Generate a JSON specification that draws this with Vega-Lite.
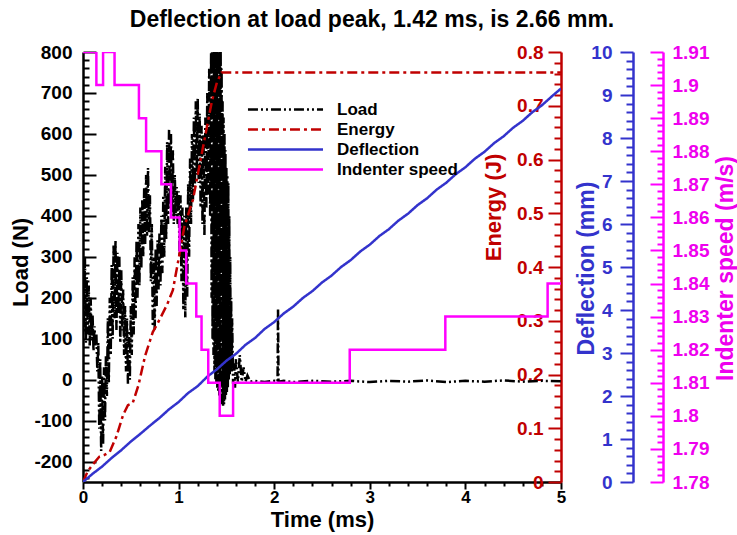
{
"$schema": "https://vega.github.io/schema/vega-lite/v6.json",
"width": 478, "height": 430,
"autosize": {"type": "none"},
"padding": {"left": 83, "top": 52, "right": 176, "bottom": 53},
"background": "white",
"title": {"text": "Deflection at load peak, 1.42 ms, is 2.66 mm.", "fontSize": 23, "font": "Liberation Sans", "fontWeight": "bold", "anchor": "middle", "dx": 50, "offset": 11, "color": "black"},
"data": {"values": [
{"s":"Load","t":0,"v":280},{"s":"Load","t":0.01,"v":120},{"s":"Load","t":0.02,"v":300},{"s":"Load","t":0.03,"v":90},{"s":"Load","t":0.04,"v":250},{"s":"Load","t":0.05,"v":110},{"s":"Load","t":0.06,"v":230},{"s":"Load","t":0.07,"v":80},{"s":"Load","t":0.08,"v":200},{"s":"Load","t":0.09,"v":100},
{"s":"Load","t":0.1,"v":160},{"s":"Load","t":0.11,"v":70},{"s":"Load","t":0.12,"v":130},{"s":"Load","t":0.13,"v":80},{"s":"Load","t":0.14,"v":110},{"s":"Load","t":0.15,"v":20},{"s":"Load","t":0.16,"v":90},{"s":"Load","t":0.17,"v":-120},{"s":"Load","t":0.18,"v":50},{"s":"Load","t":0.19,"v":-174},
{"s":"Load","t":0.2,"v":10},{"s":"Load","t":0.21,"v":-160},{"s":"Load","t":0.22,"v":30},{"s":"Load","t":0.23,"v":-100},{"s":"Load","t":0.24,"v":60},{"s":"Load","t":0.25,"v":-40},{"s":"Load","t":0.26,"v":150},{"s":"Load","t":0.27,"v":-10},{"s":"Load","t":0.28,"v":200},{"s":"Load","t":0.29,"v":60},
{"s":"Load","t":0.3,"v":280},{"s":"Load","t":0.31,"v":100},{"s":"Load","t":0.32,"v":330},{"s":"Load","t":0.33,"v":150},{"s":"Load","t":0.34,"v":340},{"s":"Load","t":0.35,"v":120},{"s":"Load","t":0.36,"v":310},{"s":"Load","t":0.37,"v":160},{"s":"Load","t":0.38,"v":300},{"s":"Load","t":0.39,"v":90},
{"s":"Load","t":0.4,"v":270},{"s":"Load","t":0.41,"v":120},{"s":"Load","t":0.42,"v":220},{"s":"Load","t":0.43,"v":60},{"s":"Load","t":0.44,"v":180},{"s":"Load","t":0.45,"v":20},{"s":"Load","t":0.46,"v":150},{"s":"Load","t":0.47,"v":-10},{"s":"Load","t":0.48,"v":120},{"s":"Load","t":0.49,"v":0},
{"s":"Load","t":0.5,"v":180},{"s":"Load","t":0.51,"v":60},{"s":"Load","t":0.52,"v":250},{"s":"Load","t":0.53,"v":110},{"s":"Load","t":0.54,"v":300},{"s":"Load","t":0.55,"v":150},{"s":"Load","t":0.56,"v":340},{"s":"Load","t":0.57,"v":200},{"s":"Load","t":0.58,"v":380},{"s":"Load","t":0.59,"v":230},
{"s":"Load","t":0.6,"v":420},{"s":"Load","t":0.61,"v":270},{"s":"Load","t":0.62,"v":440},{"s":"Load","t":0.63,"v":300},{"s":"Load","t":0.64,"v":470},{"s":"Load","t":0.65,"v":330},{"s":"Load","t":0.66,"v":500},{"s":"Load","t":0.67,"v":350},{"s":"Load","t":0.68,"v":517},{"s":"Load","t":0.69,"v":360},
{"s":"Load","t":0.7,"v":450},{"s":"Load","t":0.71,"v":240},{"s":"Load","t":0.72,"v":380},{"s":"Load","t":0.73,"v":130},{"s":"Load","t":0.74,"v":300},{"s":"Load","t":0.75,"v":120},{"s":"Load","t":0.76,"v":320},{"s":"Load","t":0.77,"v":180},{"s":"Load","t":0.78,"v":340},{"s":"Load","t":0.79,"v":220},
{"s":"Load","t":0.8,"v":360},{"s":"Load","t":0.81,"v":230},{"s":"Load","t":0.82,"v":400},{"s":"Load","t":0.83,"v":260},{"s":"Load","t":0.84,"v":450},{"s":"Load","t":0.85,"v":300},{"s":"Load","t":0.86,"v":520},{"s":"Load","t":0.87,"v":340},{"s":"Load","t":0.88,"v":580},{"s":"Load","t":0.89,"v":380},
{"s":"Load","t":0.9,"v":610},{"s":"Load","t":0.91,"v":420},{"s":"Load","t":0.92,"v":600},{"s":"Load","t":0.93,"v":400},{"s":"Load","t":0.94,"v":560},{"s":"Load","t":0.95,"v":380},{"s":"Load","t":0.96,"v":500},{"s":"Load","t":0.97,"v":400},{"s":"Load","t":0.98,"v":470},{"s":"Load","t":0.99,"v":380},
{"s":"Load","t":1,"v":460},{"s":"Load","t":1.01,"v":300},{"s":"Load","t":1.02,"v":450},{"s":"Load","t":1.03,"v":240},{"s":"Load","t":1.04,"v":420},{"s":"Load","t":1.05,"v":170},{"s":"Load","t":1.06,"v":400},{"s":"Load","t":1.07,"v":152},{"s":"Load","t":1.08,"v":420},{"s":"Load","t":1.09,"v":200},
{"s":"Load","t":1.1,"v":480},{"s":"Load","t":1.11,"v":300},{"s":"Load","t":1.12,"v":540},{"s":"Load","t":1.13,"v":380},{"s":"Load","t":1.14,"v":600},{"s":"Load","t":1.15,"v":440},{"s":"Load","t":1.16,"v":640},{"s":"Load","t":1.17,"v":470},{"s":"Load","t":1.18,"v":680},{"s":"Load","t":1.19,"v":500},
{"s":"Load","t":1.2,"v":688},{"s":"Load","t":1.21,"v":480},{"s":"Load","t":1.22,"v":650},{"s":"Load","t":1.23,"v":420},{"s":"Load","t":1.24,"v":620},{"s":"Load","t":1.25,"v":380},{"s":"Load","t":1.26,"v":600},{"s":"Load","t":1.27,"v":350},{"s":"Load","t":1.28,"v":640},{"s":"Load","t":1.29,"v":420},
{"s":"Load","t":1.3,"v":700},{"s":"Load","t":1.31,"v":450},{"s":"Load","t":1.32,"v":760},{"s":"Load","t":1.33,"v":400},{"s":"Load","t":1.34,"v":800},{"s":"Load","t":1.345,"v":200},{"s":"Load","t":1.35,"v":830},{"s":"Load","t":1.355,"v":100},{"s":"Load","t":1.36,"v":830},{"s":"Load","t":1.365,"v":60},{"s":"Load","t":1.37,"v":830},{"s":"Load","t":1.375,"v":20},{"s":"Load","t":1.38,"v":830},{"s":"Load","t":1.385,"v":0},{"s":"Load","t":1.39,"v":830},{"s":"Load","t":1.395,"v":-10},
{"s":"Load","t":1.4,"v":830},{"s":"Load","t":1.405,"v":-20},{"s":"Load","t":1.41,"v":830},{"s":"Load","t":1.415,"v":-30},{"s":"Load","t":1.42,"v":840},{"s":"Load","t":1.425,"v":-40},{"s":"Load","t":1.43,"v":830},{"s":"Load","t":1.435,"v":-50},{"s":"Load","t":1.44,"v":820},{"s":"Load","t":1.445,"v":-55},{"s":"Load","t":1.45,"v":760},{"s":"Load","t":1.455,"v":-60},{"s":"Load","t":1.46,"v":680},{"s":"Load","t":1.465,"v":-64},{"s":"Load","t":1.47,"v":640},{"s":"Load","t":1.475,"v":-60},{"s":"Load","t":1.48,"v":600},{"s":"Load","t":1.485,"v":-50},{"s":"Load","t":1.49,"v":560},{"s":"Load","t":1.495,"v":-40},
{"s":"Load","t":1.5,"v":520},{"s":"Load","t":1.505,"v":-30},{"s":"Load","t":1.51,"v":500},{"s":"Load","t":1.515,"v":-20},{"s":"Load","t":1.52,"v":480},{"s":"Load","t":1.525,"v":0},{"s":"Load","t":1.53,"v":400},{"s":"Load","t":1.535,"v":10},{"s":"Load","t":1.54,"v":300},{"s":"Load","t":1.545,"v":20},{"s":"Load","t":1.55,"v":200},{"s":"Load","t":1.555,"v":20},{"s":"Load","t":1.56,"v":150},{"s":"Load","t":1.57,"v":-10},{"s":"Load","t":1.58,"v":40},{"s":"Load","t":1.59,"v":-20},
{"s":"Load","t":1.6,"v":50},{"s":"Load","t":1.62,"v":-5},{"s":"Load","t":1.64,"v":60},{"s":"Load","t":1.66,"v":-5},{"s":"Load","t":1.68,"v":30},{"s":"Load","t":1.7,"v":-5},{"s":"Load","t":1.72,"v":10},{"s":"Load","t":1.75,"v":-5},{"s":"Load","t":1.8,"v":-3},{"s":"Load","t":1.9,"v":-6},
{"s":"Load","t":2,"v":-3},{"s":"Load","t":2.035,"v":-5},{"s":"Load","t":2.04,"v":174},{"s":"Load","t":2.045,"v":-5},{"s":"Load","t":2.1,"v":-3},{"s":"Load","t":2.2,"v":-6},{"s":"Load","t":2.4,"v":-3},{"s":"Load","t":2.6,"v":-5},{"s":"Load","t":2.8,"v":-3},{"s":"Load","t":3,"v":-6},
{"s":"Load","t":3.2,"v":-3},{"s":"Load","t":3.4,"v":-5},{"s":"Load","t":3.6,"v":-2},{"s":"Load","t":3.8,"v":-6},{"s":"Load","t":4,"v":-3},{"s":"Load","t":4.2,"v":-5},{"s":"Load","t":4.4,"v":-2},{"s":"Load","t":4.6,"v":-5},{"s":"Load","t":4.8,"v":-3},{"s":"Load","t":5,"v":-4},
{"s":"Energy","t":0,"v":0},{"s":"Energy","t":0.05,"v":0.02},{"s":"Energy","t":0.1,"v":0.032},{"s":"Energy","t":0.17,"v":0.047},{"s":"Energy","t":0.22,"v":0.05},{"s":"Energy","t":0.28,"v":0.056},{"s":"Energy","t":0.35,"v":0.085},{"s":"Energy","t":0.42,"v":0.125},{"s":"Energy","t":0.47,"v":0.143},{"s":"Energy","t":0.52,"v":0.147},
{"s":"Energy","t":0.58,"v":0.18},{"s":"Energy","t":0.65,"v":0.235},{"s":"Energy","t":0.73,"v":0.279},{"s":"Energy","t":0.78,"v":0.295},{"s":"Energy","t":0.88,"v":0.33},{"s":"Energy","t":0.94,"v":0.357},{"s":"Energy","t":1,"v":0.415},{"s":"Energy","t":1.06,"v":0.475},{"s":"Energy","t":1.15,"v":0.525},{"s":"Energy","t":1.22,"v":0.59},
{"s":"Energy","t":1.29,"v":0.655},{"s":"Energy","t":1.35,"v":0.71},{"s":"Energy","t":1.4,"v":0.743},{"s":"Energy","t":1.45,"v":0.762},{"s":"Energy","t":1.6,"v":0.762},{"s":"Energy","t":5,"v":0.762},
{"s":"Deflection","t":0,"v":0},{"s":"Deflection","t":0.1,"v":0.19},{"s":"Deflection","t":0.2,"v":0.36},{"s":"Deflection","t":0.3,"v":0.56},{"s":"Deflection","t":0.4,"v":0.74},{"s":"Deflection","t":0.5,"v":0.94},{"s":"Deflection","t":0.6,"v":1.12},{"s":"Deflection","t":0.7,"v":1.31},{"s":"Deflection","t":0.8,"v":1.49},{"s":"Deflection","t":0.9,"v":1.69},
{"s":"Deflection","t":1,"v":1.86},{"s":"Deflection","t":1.1,"v":2.07},{"s":"Deflection","t":1.2,"v":2.23},{"s":"Deflection","t":1.3,"v":2.45},{"s":"Deflection","t":1.4,"v":2.62},{"s":"Deflection","t":1.5,"v":2.82},{"s":"Deflection","t":1.6,"v":2.98},{"s":"Deflection","t":1.7,"v":3.19},{"s":"Deflection","t":1.8,"v":3.35},{"s":"Deflection","t":1.9,"v":3.56},
{"s":"Deflection","t":2,"v":3.72},{"s":"Deflection","t":2.1,"v":3.92},{"s":"Deflection","t":2.2,"v":4.08},{"s":"Deflection","t":2.3,"v":4.28},{"s":"Deflection","t":2.4,"v":4.44},{"s":"Deflection","t":2.5,"v":4.64},{"s":"Deflection","t":2.6,"v":4.8},{"s":"Deflection","t":2.7,"v":5},{"s":"Deflection","t":2.8,"v":5.16},{"s":"Deflection","t":2.9,"v":5.36},
{"s":"Deflection","t":3,"v":5.52},{"s":"Deflection","t":3.1,"v":5.72},{"s":"Deflection","t":3.2,"v":5.88},{"s":"Deflection","t":3.3,"v":6.08},{"s":"Deflection","t":3.4,"v":6.24},{"s":"Deflection","t":3.5,"v":6.44},{"s":"Deflection","t":3.6,"v":6.6},{"s":"Deflection","t":3.7,"v":6.8},{"s":"Deflection","t":3.8,"v":6.96},{"s":"Deflection","t":3.9,"v":7.16},
{"s":"Deflection","t":4,"v":7.32},{"s":"Deflection","t":4.1,"v":7.52},{"s":"Deflection","t":4.2,"v":7.68},{"s":"Deflection","t":4.3,"v":7.88},{"s":"Deflection","t":4.4,"v":8.04},{"s":"Deflection","t":4.5,"v":8.24},{"s":"Deflection","t":4.6,"v":8.4},{"s":"Deflection","t":4.7,"v":8.6},{"s":"Deflection","t":4.8,"v":8.76},{"s":"Deflection","t":4.9,"v":8.96},{"s":"Deflection","t":5,"v":9.15},
{"s":"Indenter speed","t":0,"v":1.91},{"s":"Indenter speed","t":0.14,"v":1.9},{"s":"Indenter speed","t":0.21,"v":1.91},{"s":"Indenter speed","t":0.33,"v":1.9},{"s":"Indenter speed","t":0.585,"v":1.89},{"s":"Indenter speed","t":0.66,"v":1.88},{"s":"Indenter speed","t":0.82,"v":1.87},{"s":"Indenter speed","t":0.92,"v":1.86},{"s":"Indenter speed","t":1.01,"v":1.85},{"s":"Indenter speed","t":1.08,"v":1.84},
{"s":"Indenter speed","t":1.185,"v":1.83},{"s":"Indenter speed","t":1.24,"v":1.82},{"s":"Indenter speed","t":1.31,"v":1.81},{"s":"Indenter speed","t":1.43,"v":1.8},{"s":"Indenter speed","t":1.57,"v":1.81},{"s":"Indenter speed","t":2.79,"v":1.82},{"s":"Indenter speed","t":3.79,"v":1.83},{"s":"Indenter speed","t":4.86,"v":1.84},{"s":"Indenter speed","t":5,"v":1.84}
]},
"encoding": {
  "color": {"field": "s", "type": "nominal",
    "scale": {"domain": ["Load", "Energy", "Deflection", "Indenter speed"], "range": ["#000000", "#c00000", "#3333cc", "#ff00ff"]},
    "legend": {"title": null, "orient": "none", "legendX": 192, "legendY": 47, "symbolType": "M-4.17,0H4.17", "symbolSize": 324, "labelFontSize": 17, "labelFont": "Liberation Sans", "labelFontWeight": "bold", "labelOffset": 41, "rowPadding": 1, "padding": 0, "labelColor": "black"}},
  "strokeDash": {"field": "s", "type": "nominal",
    "scale": {"domain": ["Load", "Energy", "Deflection", "Indenter speed"], "range": [[10,3,2,3,2,3],[10,4,3,4],[1,0],[1,0]]},
    "legend": {"title": null, "orient": "none", "legendX": 192, "legendY": 47, "symbolType": "M-4.17,0H4.17", "symbolSize": 324, "labelFontSize": 17, "labelFont": "Liberation Sans", "labelFontWeight": "bold", "labelOffset": 41, "rowPadding": 1, "padding": 0, "labelColor": "black"}},
  "strokeWidth": {"field": "s", "type": "ordinal",
    "scale": {"domain": ["Load", "Energy", "Deflection", "Indenter speed"], "range": [2.5, 2.5, 1.2, 3]},
    "legend": {"title": null, "orient": "none", "legendX": 192, "legendY": 47, "symbolType": "M-4.17,0H4.17", "symbolSize": 324, "labelFontSize": 17, "labelFont": "Liberation Sans", "labelFontWeight": "bold", "labelOffset": 41, "rowPadding": 1, "padding": 0, "labelColor": "black"}}
},
"layer": [
  {"transform": [{"filter": "datum.s === 'Load'"}], "mark": {"type": "line", "clip": true},
   "encoding": {
     "x": {"field": "t", "type": "quantitative", "scale": {"domain": [0, 5], "nice": false, "zero": false},
       "axis": {"orient": "bottom", "title": "Time (ms)", "values": [0,0.2,0.4,0.6,0.8,1,1.2,1.4,1.6,1.8,2,2.2,2.4,2.6,2.8,3,3.2,3.4,3.6,3.8,4,4.2,4.4,4.6,4.8,5],
         "labelExpr": "abs(datum.value - round(datum.value)) < 0.001 ? datum.label : ''",
         "format": "~g", "ticks": true, "labelOverlap": false, "labelFlush": false, "labelFontSize": 17,
         "tickSize": {"condition": {"test": "abs(datum.value - round(datum.value)) < 0.001", "value": 7}, "value": 4},
         "labelPadding": 0, "domainColor": "black", "tickColor": "black", "labelColor": "black", "titleColor": "black",
         "titleY": 37, "titleBaseline": "middle"}},
     "y": {"field": "v", "type": "quantitative", "scale": {"domain": [-250, 800], "nice": false, "zero": false},
     "axis": {"orient": "left", "title": "Load (N)", "format": "d",
       "values": [-240,-220,-200,-180,-160,-140,-120,-100,-80,-60,-40,-20,0,20,40,60,80,100,120,140,160,180,200,220,240,260,280,300,320,340,360,380,400,420,440,460,480,500,520,540,560,580,600,620,640,660,680,700,720,740,760,780,800],
       "labelExpr": "datum.value % 100 === 0 ? datum.label : ''",
       "tickSize": {"condition": {"test": "datum.value % 100 === 0", "value": -13}, "value": -6},
       "labelPadding": 24, "domainColor": "black", "tickColor": "black", "labelColor": "black", "titleColor": "black",
       "titleAngle": 270, "titleX": -63, "titleY": 210, "titleBaseline": "middle", "titleAlign": "center"}}}},
  {"transform": [{"filter": "datum.s === 'Energy'"}], "mark": {"type": "line", "clip": true},
   "encoding": {
     "x": {"field": "t", "type": "quantitative", "scale": {"domain": [0, 5], "nice": false, "zero": false}, "axis": null},
     "y": {"field": "v", "type": "quantitative", "scale": {"domain": [0, 0.8], "nice": false, "zero": false},
     "axis": {"orient": "left", "offset": -478, "title": "Energy (J)", "format": ".1~f",
       "values": [0,0.02,0.04,0.06,0.08,0.1,0.12,0.14,0.16,0.18,0.2,0.22,0.24,0.26,0.28,0.3,0.32,0.34,0.36,0.38,0.4,0.42,0.44,0.46,0.48,0.5,0.52,0.54,0.56,0.58,0.6,0.62,0.64,0.66,0.68,0.7,0.72,0.74,0.76,0.78,0.8],
       "labelExpr": "abs(datum.value*10 - round(datum.value*10)) < 0.001 ? datum.label : ''",
       "tickSize": {"condition": {"test": "abs(datum.value*10 - round(datum.value*10)) < 0.001", "value": 13}, "value": 7},
       "labelPadding": 5, "domainColor": "#c00000", "tickColor": "#c00000", "labelColor": "#c00000", "titleColor": "#c00000",
       "titleAngle": 270, "titleX": -68, "titleY": 155, "titleBaseline": "middle", "titleAlign": "center"}}}},
  {"transform": [{"filter": "datum.s === 'Deflection'"}], "mark": {"type": "line", "clip": true},
   "encoding": {
     "x": {"field": "t", "type": "quantitative", "scale": {"domain": [0, 5], "nice": false, "zero": false}, "axis": null},
     "y": {"field": "v", "type": "quantitative", "scale": {"domain": [0, 10], "nice": false, "zero": false},
     "axis": {"orient": "left", "offset": -550, "title": "Deflection (mm)", "format": "~g",
       "values": [0,0.2,0.4,0.6,0.8,1,1.2,1.4,1.6,1.8,2,2.2,2.4,2.6,2.8,3,3.2,3.4,3.6,3.8,4,4.2,4.4,4.6,4.8,5,5.2,5.4,5.6,5.8,6,6.2,6.4,6.6,6.8,7,7.2,7.4,7.6,7.8,8,8.2,8.4,8.6,8.8,9,9.2,9.4,9.6,9.8,10],
       "labelExpr": "abs(datum.value - round(datum.value)) < 0.001 ? datum.label : ''",
       "tickSize": {"condition": {"test": "abs(datum.value - round(datum.value)) < 0.001", "value": 13}, "value": 7},
       "labelPadding": 8, "domainColor": "#3333cc", "tickColor": "#3333cc", "labelColor": "#3333cc", "titleColor": "#3333cc",
       "titleAngle": 270, "titleX": -47, "titleY": 216, "titleFontSize": 23, "titleBaseline": "middle", "titleAlign": "center"}}}},
  {"transform": [{"filter": "datum.s === 'Indenter speed'"}], "mark": {"type": "line", "clip": true, "interpolate": "step-after"},
   "encoding": {
     "x": {"field": "t", "type": "quantitative", "scale": {"domain": [0, 5], "nice": false, "zero": false}, "axis": null},
     "y": {"field": "v", "type": "quantitative", "scale": {"domain": [1.78, 1.91], "nice": false, "zero": false},
     "axis": {"orient": "right", "offset": 102, "title": "Indenter speed (m/s)", "format": ".2~f",
       "values": [1.78,1.782,1.784,1.786,1.788,1.79,1.792,1.794,1.796,1.798,1.8,1.802,1.804,1.806,1.808,1.81,1.812,1.814,1.816,1.818,1.82,1.822,1.824,1.826,1.828,1.83,1.832,1.834,1.836,1.838,1.84,1.842,1.844,1.846,1.848,1.85,1.852,1.854,1.856,1.858,1.86,1.862,1.864,1.866,1.868,1.87,1.872,1.874,1.876,1.878,1.88,1.882,1.884,1.886,1.888,1.89,1.892,1.894,1.896,1.898,1.9,1.902,1.904,1.906,1.908,1.91],
       "labelExpr": "abs(datum.value*100 - round(datum.value*100)) < 0.01 ? datum.label : ''",
       "tickSize": {"condition": {"test": "abs(datum.value*100 - round(datum.value*100)) < 0.01", "value": -13}, "value": -6},
       "labelPadding": 22, "domainColor": "#ff00ff", "tickColor": "#ff00ff", "labelColor": "#ee00ee", "titleColor": "#ee00ee",
       "titleAngle": 270, "titleX": 62, "titleY": 216, "titleFontSize": 23, "titleBaseline": "middle", "titleAlign": "center"}}}}
],
"resolve": {"scale": {"y": "independent"}, "axis": {"x": "independent", "y": "independent"}},
"config": {
  "view": {"stroke": null},
  "locale": {"number": {"decimal": ".", "thousands": ",", "grouping": [3], "currency": ["$", ""], "minus": "-"}},
  "axis": {"grid": false, "labelFont": "Liberation Sans", "labelFontWeight": "bold", "labelFontSize": 19, "titleFont": "Liberation Sans", "titleFontWeight": "bold", "titleFontSize": 22, "domainWidth": 2.5, "tickWidth": 2, "labelFlush": false, "labelOverlap": false}
}
}
